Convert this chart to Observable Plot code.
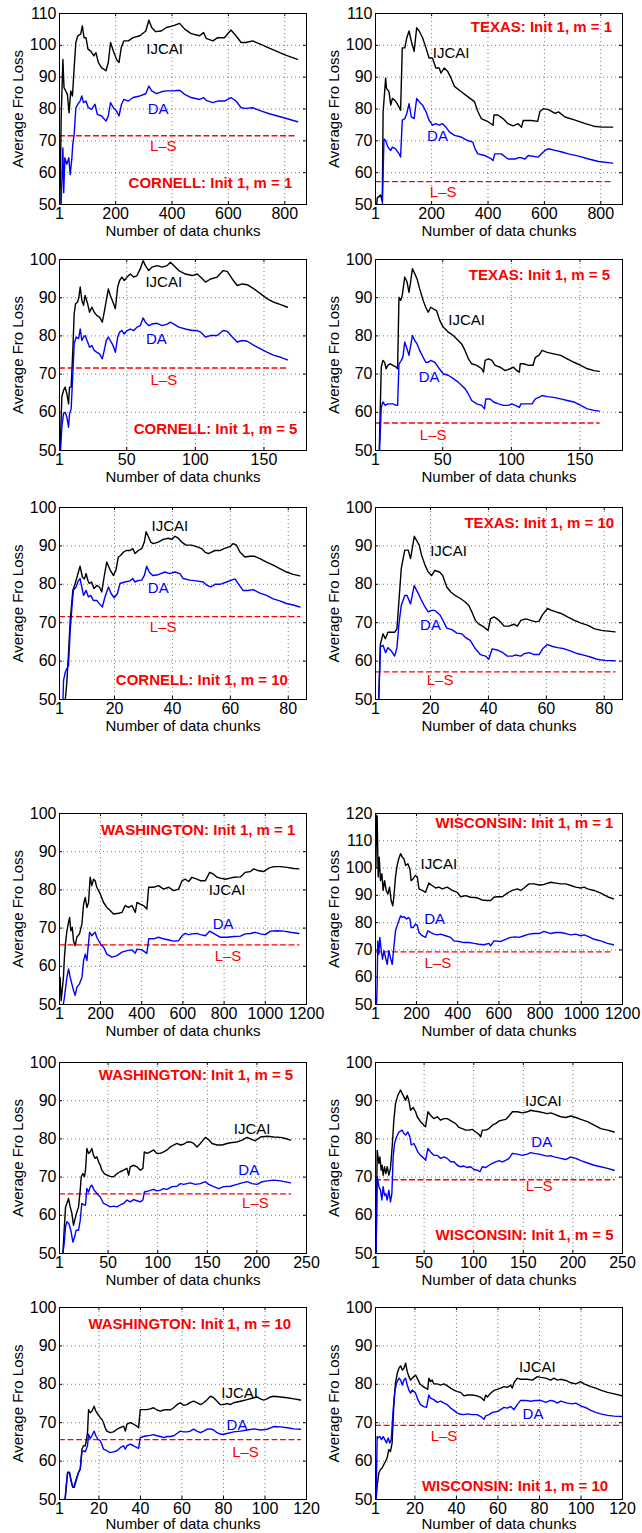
<!DOCTYPE html>
<html><head><meta charset="utf-8">
<script src="https://cdn.jsdelivr.net/npm/d3@7"></script>
<script src="https://cdn.jsdelivr.net/npm/@observablehq/plot@0.6"></script>
<style>
html,body{margin:0;padding:0;background:#fff;}
#chart{position:relative;width:642px;height:1533px;overflow:hidden;background:#fff;}
#chart svg{position:absolute;overflow:visible;}
</style></head><body><div id="chart"></div>
<script>
// ---------------- DATA ----------------
const ticksM1CT = [1,200,400,600,800];
const ticksM5CT = [1,50,100,150];
const ticksM10CT = [1,20,40,60,80];
const ticksM1WW = [1,200,400,600,800,1000,1200];
const ticksM5WW = [1,50,100,150,200,250];
const ticksM10WW = [1,20,40,60,80,100,120];
const yTicks100 = [50,60,70,80,90,100];
const yTicks110 = [50,60,70,80,90,100,110];
const yTicks120 = [50,60,70,80,90,100,110,120];

const lsCornell = 71.6, lsTexas = 57.2, lsWashington = 65.6, lsWisconsin = 69.3;

const cornell1Ijcai = [[1,40],[7,77.3],[13,95.6],[17,86.7],[23,85.7],[29,84.6],[35,78.8],[41,85.7],[47,84.1],[53,93],[59,100.9],[66,103],[76,103.5],[82,106.1],[88,102.4],[95,102.4],[102,98.8],[112,98.2],[123,96.7],[130,97.7],[139,94.6],[150,93],[166,92],[174,94.6],[182,100.9],[192,98.2],[203,95.6],[212,94.6],[220,99.3],[229,101.4],[245,101.4],[262,102.4],[286,103],[307,104.5],[318,107.9],[328,105.6],[342,104.3],[362,104.5],[380,105.6],[403,106.1],[427,106.9],[445,105.1],[468,103.7],[498,103],[512,104],[521,102.2],[545,101.4],[562,102.4],[586,102.4],[609,104.8],[627,103],[645,100.9],[662,100.9],[686,101.4],[715,100.3],[745,99.1],[774,98],[803,96.9],[845,95.6]];
const cornell1Da = [[5,45],[13,67.8],[16,53.7],[20,64.7],[27,62.6],[34,64.7],[39,59.4],[45,64.7],[48,68.9],[53,72],[59,80.4],[66,81.5],[74,82.5],[80,84.1],[86,82],[95,82.5],[103,80.4],[115,79.9],[127,81.5],[135,78.3],[150,77.8],[166,76.2],[174,77.8],[182,82],[192,80.4],[203,79.4],[212,77.8],[221,81.5],[229,83],[245,82.5],[262,83.6],[286,84.1],[307,84.8],[318,87.2],[328,85.7],[345,84.8],[362,85.4],[380,85.7],[403,85.7],[427,85.9],[445,84.6],[468,83.6],[498,83],[512,83.6],[521,82.7],[545,82],[562,82.5],[586,82.5],[609,83.6],[627,82.5],[645,80.4],[662,80.2],[686,80.4],[715,79.4],[745,78.5],[774,77.8],[803,77.1],[845,76]];

const texas1Ijcai = [[1,45],[7,52],[19,53],[25,51],[28,79],[37,89.7],[40,86.5],[49,85.4],[55,81.2],[61,83.3],[69,82.8],[78,81.7],[90,79.6],[96,99.2],[105,99.2],[112,102.4],[120,104.5],[128,101.3],[138,98.1],[147,105.5],[156,104.5],[168,102.4],[180,99.2],[191,96],[203,96],[215,92.9],[227,92.9],[233,91.3],[245,92.9],[257,91.8],[269,89.7],[281,87.1],[305,85.4],[328,83.9],[352,82.3],[364,79.2],[376,77],[400,76],[418,74.9],[421,78.1],[435,78.1],[453,77],[471,75.4],[489,74.7],[507,75.4],[519,74.3],[525,76.4],[537,76.4],[554,76.4],[576,76.1],[584,79.2],[596,80.1],[614,79.8],[638,78.6],[650,79.1],[673,77.5],[709,76.5],[745,75.4],[775,74.6],[804,74.3],[842,74.3]];
const texas1Da = [[24,45],[31,70.6],[37,70.1],[43,68.5],[49,67.5],[55,67],[61,68],[72,67.5],[84,66],[90,64.9],[96,76.5],[105,77],[112,78.6],[120,81.7],[128,77.5],[138,77],[147,83.3],[156,82.3],[168,81.2],[180,79.2],[191,76.5],[203,74.9],[215,75.4],[227,74.9],[239,75.4],[251,74.3],[263,72.8],[281,71.7],[305,71.2],[328,70.1],[346,69.6],[354,67.5],[364,65.9],[388,65.4],[412,64.3],[418,63.8],[424,65.9],[447,65.9],[471,64.3],[495,64.3],[513,64.8],[531,64.3],[543,65.4],[578,64.9],[602,67],[614,67.5],[638,67],[662,66.5],[685,65.9],[721,65.2],[757,64.3],[792,63.5],[842,63]];

const cornell5Ijcai = [[1,45],[2.7,64],[3.9,65.7],[5.1,66.6],[6.4,64.8],[7.6,62.2],[8.3,66.6],[9.5,66.6],[10.7,76.2],[11.7,85.8],[12.7,88.4],[14.1,88.8],[15.1,90.1],[16.1,92.8],[17.3,89.3],[18.5,88],[19.7,90.6],[21.5,88.4],[22.9,86.2],[24.6,87.5],[26.3,86.2],[28.3,85.3],[30.2,84.9],[32.2,83.6],[33.6,86.2],[35.1,89.3],[36.6,92.3],[38,90.6],[40,88.8],[41.7,87.1],[43.4,92.8],[44.8,94.5],[46.5,95.4],[48.2,94.5],[50.2,95.4],[52.6,96.2],[55.1,95.4],[57.5,95.8],[59.9,97.6],[61.9,99.7],[63.6,98.4],[66,97.1],[68.4,98],[72.1,98.4],[75.8,98],[79.4,98.4],[81.8,99.3],[84.3,98.4],[87.9,97.1],[92.8,96.2],[97.7,95.8],[101.3,96.2],[103.8,95.4],[107.4,94.1],[111.1,94.9],[115.9,95.4],[120.3,97.1],[123.2,96.9],[126.9,94.9],[130.5,93.2],[134.2,93.6],[137.8,93.4],[142.7,92.3],[147.6,91],[152.5,89.7],[157.3,88.8],[162.2,88.2],[167.1,87.5]];
const cornell5Da = [[1,45],[2.7,56.1],[3.9,59.6],[5.1,60],[6.4,58.7],[7.6,56.1],[8.3,59.6],[9.5,60.9],[10.7,70.1],[11.7,77.9],[13.2,79.7],[14.9,79.3],[16.1,81.8],[17.3,78.8],[18.5,79.7],[19.7,80.1],[21.5,78.4],[22.9,77],[24.6,77.5],[26.3,76.2],[28.3,75.7],[30.2,75.3],[32.2,74],[33.6,76.2],[35.1,78.8],[36.6,79.7],[38,78.8],[40,77.5],[41.7,75.7],[43.4,79.7],[44.8,81],[46.5,81.4],[48.2,80.5],[50.2,81.4],[52.6,81.8],[55.1,81.4],[57.5,82.3],[59.9,82.7],[61.9,84.7],[63.6,83.6],[66,82.7],[68.4,83.1],[72.1,83.3],[75.8,82.7],[79.4,83.1],[81.8,83.6],[84.3,83.1],[87.9,82.3],[92.8,81.8],[97.7,81.4],[101.3,81.4],[103.8,81],[107.4,79.7],[111.1,80.1],[115.9,80.1],[120.3,81.4],[123.2,81.2],[126.9,79.7],[130.5,78.4],[134.2,78.8],[137.8,78.6],[142.7,77.5],[147.6,76.6],[152.5,75.7],[157.3,74.9],[162.2,74.4],[167.1,73.7]];

const texas5Ijcai = [[3.4,45],[5.2,71.8],[6.4,73.6],[7.6,73.1],[8.8,71.4],[10,72.3],[11.7,72.7],[13.7,72.3],[16.1,71.8],[17.1,71.4],[18.1,90.1],[19.3,89.3],[20.5,90.6],[22.3,95.4],[24,94.1],[25.4,91.4],[26.4,93.6],[27.9,97.6],[29.6,96.3],[31.3,94.9],[33.2,92.3],[35.7,89.3],[37.6,87.5],[39.4,86.2],[41.3,87.5],[43,87.1],[45.5,86.6],[47.9,84],[50.3,82.3],[54,81],[57.7,80.1],[61.3,78.8],[63.8,77.9],[66.2,76.2],[68.7,74],[71.1,72.7],[74.8,72.3],[78.4,71.4],[79.7,70.5],[80.9,73.6],[83.3,74],[85.8,73.6],[88.2,72.3],[91.9,71.8],[95.5,70.9],[99.2,71.4],[101.6,71.8],[104.1,70.9],[105.8,70.5],[106.5,72.7],[109,72.7],[112.6,72.3],[115.8,72.3],[117.5,74.4],[120,74.9],[122.4,76.2],[126.1,75.7],[130.9,75.3],[135.9,74.9],[140.7,74],[145.6,73.1],[150.5,72.3],[155.4,71.4],[160.3,70.9],[164,70.7]];
const texas5Da = [[3.4,45],[5.2,61.3],[6.4,62.7],[8.1,61.8],[10,62.2],[11.7,62.2],[13.7,62.2],[16.1,61.8],[17.1,61.8],[18.1,72.7],[19.8,73.6],[21,74.5],[22.3,78.4],[24,76.6],[25.4,74.9],[26.4,77],[27.9,80.1],[29.6,78.8],[31.3,77.9],[33.2,76.2],[35.7,74.4],[37.6,73.1],[39.4,73.1],[41.3,73.6],[44.2,73.1],[46.7,71.8],[50.3,70.1],[54,69.7],[57.7,68.8],[61.3,67.9],[63.8,67],[66.2,66.2],[68.7,64.8],[71.1,63.1],[74.8,62.2],[78.4,61.8],[80.4,60.9],[81.4,63.5],[84.6,63.5],[87,62.7],[90.7,62.2],[94.3,61.8],[98,61.8],[100.4,62.2],[102.9,61.8],[105.8,61.3],[107,62.2],[110.2,62.2],[115.1,62.2],[117.5,63.5],[120,63.9],[122.4,64.4],[126.1,64.1],[130.9,63.9],[135.9,63.5],[140.7,63.1],[145.6,62.7],[150.5,61.8],[155.4,60.9],[160.3,60.5],[164,60.3]];

const cornell10Ijcai = [[2.4,45],[3,50],[3.5,54.1],[4.1,61.9],[4.7,70.6],[5.6,78.4],[6.4,80.2],[7.2,82.3],[8.1,84.7],[8.9,81.9],[9.6,81.4],[10.2,82.8],[10.8,81],[11.3,80.2],[12.1,80.6],[12.9,78.9],[13.9,79.7],[14.8,79.3],[15.6,78],[16.4,81.9],[17.3,85.8],[18.5,83.7],[19.6,82.3],[20.5,83.7],[21.3,87.1],[22.1,87.5],[23.1,88.4],[24,88.8],[25.4,88.8],[26.3,89.3],[27.1,88],[28.2,88.8],[29.4,89.3],[30.3,91],[30.9,93.7],[31.7,92.4],[32.5,91],[33.4,90.6],[35.1,91],[36.8,91.7],[38.6,92],[39.7,91.7],[40.9,92.5],[42,92],[43.2,91],[44.7,90.2],[46.6,90.2],[48.3,89.8],[50.1,89.3],[51.2,88.4],[52.4,88],[53.5,88.4],[54.7,88.8],[56.4,88.8],[57.8,89.3],[59.8,89.8],[61,90.6],[62.1,90.2],[63.3,88.4],[65,87.1],[66.7,87.3],[68.4,87.3],[70.2,86.7],[72.5,85.8],[74.8,85],[77.1,84.1],[79.4,83.2],[81.7,82.6],[84,82.2]];
const cornell10Da = [[2,45],[2.4,55],[3,57.1],[3.5,58],[4.1,58.9],[4.7,68],[5.3,74.1],[5.8,78.4],[6.7,79.3],[7.5,80.9],[8.1,81.5],[8.7,79.3],[9.3,77.1],[10.2,78.4],[11,76.7],[11.8,77.1],[12.7,75.8],[13.9,75.8],[14.8,74.9],[15.8,74.1],[16.7,76.7],[17.9,79.3],[18.8,77.6],[19.9,76.5],[21,77.6],[21.9,80.2],[23.6,80.6],[25.4,80.9],[26.3,81.5],[27.1,80.6],[28.2,81],[29.4,81.1],[30.3,82.3],[31.1,84.7],[32,83.2],[33.2,82.3],[35.1,82.5],[37.4,83.2],[39.1,82.8],[40.9,83.2],[42.6,82.8],[43.7,81.5],[46,81.1],[48.3,80.9],[50.6,80.6],[51.8,79.8],[53.2,79.3],[54.7,80],[56.4,80],[58.7,80.6],[60.4,81.1],[61.6,81.4],[62.7,80.2],[64.4,78.4],[66.1,78.4],[67.9,78.6],[70.2,77.7],[72.5,77.1],[74.8,76.2],[77.1,75.7],[79.4,75],[81.7,74.6],[84,74.1]];

const texas10Ijcai = [[1.9,45],[2.7,64.5],[3.6,67.1],[4.4,65.8],[5.3,67.5],[6.5,67.5],[7.6,67.5],[8.4,68.4],[9.1,75.7],[9.9,84.1],[11.1,88.9],[12.3,88.9],[13.1,86.7],[14.4,92.5],[15.2,91.4],[16.1,90.2],[16.9,87.6],[18.1,85],[19.2,83.2],[20.4,82.3],[21.5,83.6],[23.1,83.2],[24.2,82.3],[25.6,79.3],[27,78],[28.5,77.1],[30.3,76.3],[32,75.4],[33.2,74.5],[34.3,72.8],[35.5,70.6],[36.6,69.7],[38.4,68.9],[39.9,68],[40.7,71],[41.9,71.5],[43,71],[44.2,70.2],[45.4,69.1],[47.1,69.1],[48.8,69.6],[50,69.1],[51.2,70.6],[52.9,71],[54.6,70.6],[56.4,70.2],[57.5,70.4],[58.7,72.1],[60.4,73.7],[61.6,73.3],[63.3,72.8],[65.1,72.4],[67.3,71.5],[69.7,70.6],[72,69.9],[74.4,69.3],[76.7,68.4],[79,68],[81.3,67.8],[83.7,67.6]];
const texas10Da = [[1.9,45],[2.7,63.7],[3.6,64.1],[4.5,62.2],[5.3,63.5],[6.5,62.6],[7.6,61.3],[8.4,63.5],[9.1,69.7],[9.9,74.5],[11.1,77.1],[11.9,77.1],[13.1,74.9],[14.4,79.7],[15.2,78.4],[16.1,77.1],[16.9,75.8],[18.1,74.1],[19.2,72.8],[20.4,73.2],[21.5,73.2],[23.3,72],[24.5,70.3],[25.6,68.6],[27.4,68.2],[29.1,67.3],[30.8,67.1],[32,66.2],[33.7,65.4],[35.5,63.2],[37.2,61.7],[39,61.3],[40.1,60.5],[41.3,63.2],[43,62.9],[44.8,62.3],[46.5,61.3],[48.3,61.3],[49.4,61.6],[51.2,61.3],[52.3,61.9],[54.1,62.2],[55.8,61.7],[57.5,61.7],[58.7,63.2],[60.4,64.3],[62.2,63.8],[63.9,63.5],[66.2,63.2],[68.5,62.6],[70.9,61.9],[73.2,61.5],[75.5,61],[77.9,60.4],[80.2,60.2],[83.7,60.1]];

const washington1Ijcai = [[4,57.1],[9,51],[14,53.7],[20,57.1],[25,62.4],[30,65.9],[37,69.3],[45,71.5],[50,72.8],[56,69.3],[63,70.2],[69,66.7],[77,65.4],[85,67.6],[98,68.5],[110,71.1],[118,76.3],[126,78],[134,75.4],[142,76.7],[150,83.3],[158,81.1],[166,82.8],[174,82.4],[182,80.7],[199,78.9],[215,76.7],[231,75.4],[247,74.6],[263,73.7],[288,73.9],[304,74.1],[320,75.9],[336,75.4],[353,75.9],[369,74.1],[377,76.7],[393,76.3],[409,75.9],[425,75],[434,80.7],[458,80.7],[482,81.1],[506,80.2],[531,80.7],[555,79.8],[579,80.2],[596,82.4],[612,82.8],[628,82.2],[644,83.3],[668,82.8],[685,82.4],[709,82.4],[730,84.6],[749,84.1],[766,83.3],[782,83.1],[806,82.8],[830,83.1],[847,83.3],[879,83.4],[903,84.6],[928,84.8],[944,85.5],[968,85],[992,84.8],[1017,85.7],[1041,86.1],[1073,86.1],[1106,85.9],[1138,85.6],[1163,85.5]];
const washington1Da = [[20,50.2],[25,51.9],[37,57.1],[45,59.3],[53,57.1],[61,55.4],[69,53.7],[77,52.4],[85,54.5],[98,55.4],[110,57.1],[118,61.5],[126,63.2],[134,61.5],[139,64.5],[147,68.9],[158,68],[166,68.5],[174,68.9],[182,67.6],[199,65.9],[215,65],[231,63.2],[255,62.4],[280,62.8],[304,63.7],[328,64.1],[352,64.3],[369,63.4],[377,64.5],[401,64.3],[425,63.4],[434,67.2],[458,67.2],[482,67.6],[506,67.2],[531,66.9],[555,66.6],[579,66.7],[596,68],[612,68.6],[628,68.3],[644,68.5],[668,68.6],[685,68.3],[709,68],[730,69.2],[749,68.6],[782,67.6],[815,67.6],[847,67.8],[879,67.9],[903,68.5],[928,68.6],[952,68.9],[976,68.5],[1001,68.3],[1025,69.2],[1057,69.3],[1090,69.2],[1122,68.9],[1163,68.6]];

const wisconsin1Ijcai = [[3,100],[6,119.4],[9,118.8],[14,96.7],[19,104],[25,95.4],[32,97.9],[38,91.8],[45,95.4],[53,91.8],[61,90.5],[69,93],[77,88.1],[85,86.2],[90,89.3],[98,96.7],[106,101],[114,103.4],[123,105.3],[131,104],[139,103.4],[147,101],[158,101.6],[168,99.7],[174,95.4],[184,96.1],[195,97.3],[204,96.7],[212,92.4],[228,91.8],[244,91.1],[260,94.5],[276,93.6],[293,92.7],[309,93],[325,92.4],[349,93],[374,91.8],[398,91.1],[414,89.5],[438,89.9],[463,89.3],[495,89.1],[519,88.3],[544,88.1],[560,88.1],[576,89.3],[592,89.5],[617,89.5],[641,90.8],[665,91.8],[690,92.4],[706,91.8],[722,92.7],[746,94.2],[771,94.2],[795,93.8],[819,94],[852,94.8],[876,94.5],[900,94.2],[924,94.2],[949,93.6],[973,93],[997,92.7],[1014,93],[1030,92.4],[1062,91.8],[1095,90.8],[1127,89.5],[1156,88.7]];
const wisconsin1Da = [[6,50],[9,57.4],[12,73.3],[17,68.4],[22,74.6],[29,69.7],[35,66.6],[42,69.7],[50,67.2],[58,64.7],[66,69.7],[74,67],[82,64.7],[90,70.9],[98,77],[106,78.9],[114,80.7],[123,82.5],[131,81.9],[139,82.2],[152,81.3],[160,81.9],[168,81.3],[174,78.2],[184,78.2],[195,79.5],[204,78.9],[212,76.4],[228,75.2],[244,74.6],[255,77],[268,76.4],[285,75.8],[301,75.5],[317,75.8],[341,75.2],[366,74.6],[382,73.3],[406,73.1],[430,72.7],[455,72.7],[479,72.4],[503,72.1],[528,71.9],[552,72.4],[560,71.5],[576,73.3],[609,73.1],[633,73.9],[657,74.6],[681,74.8],[698,74.6],[722,75.2],[746,75.8],[771,76],[795,76],[819,76.8],[852,76],[876,76.4],[900,76.4],[924,76],[949,75.5],[973,75.8],[997,75.2],[1014,75.5],[1038,74.8],[1062,73.9],[1095,73.3],[1127,72.4],[1156,71.9]];

const washington5Ijcai = [[4.4,50],[5.7,56.1],[7.1,62.2],[8.4,63.1],[10.1,64.4],[11.8,62.2],[13.5,60.5],[15.1,57.4],[16.8,59.2],[18.5,60.9],[20.2,62.2],[21.9,66.6],[22.9,70.1],[24.6,70.9],[26.2,70.1],[27.2,71.8],[28.6,77.5],[30.3,76.2],[32,76.6],[33.6,77.5],[35.3,75.7],[37,74.9],[38.7,75.3],[40.4,74],[42.1,73.1],[43.7,71.8],[46.1,70.9],[48.8,70.5],[52.1,70.2],[55.5,70.1],[58.9,70.9],[62.2,71.4],[65.6,71.8],[69,72.3],[70.7,70.5],[72.3,72.7],[75.7,73.1],[79.1,72.7],[82.4,71.8],[85.1,72.3],[86.5,76.6],[89.2,76.2],[92.5,76.6],[95.9,77.1],[99.3,76.2],[102.6,76.2],[106,76.6],[109.4,77.1],[112.7,77.9],[116.1,78.4],[119.4,78.8],[122.8,78.4],[126.2,78.6],[129.5,79.2],[132.9,79.2],[136.3,78.8],[139.6,77.9],[143,78.8],[148.1,80.4],[151.4,79.8],[154.8,78.8],[159.8,78.4],[164.9,78.4],[169.9,78.8],[173.3,79],[180,79.2],[185.1,79.7],[190.1,80.4],[195.2,79.8],[198.5,79.5],[203.6,80.5],[210.3,80.7],[217,80.5],[223.8,80.4],[228.8,80.1],[233.9,79.7]];
const washington5Da = [[4.4,50],[5.7,52.6],[7.1,57],[8.4,58.3],[10.4,57.9],[12.4,56.1],[14.5,53],[15.8,53.9],[17.8,56.1],[20.2,56.1],[21.9,58.7],[23.5,63.1],[25.9,62.7],[27.2,62.7],[28.6,67],[30.3,66.1],[32,67.5],[33.6,67.9],[36,66.6],[38.7,65.7],[42.1,64.8],[45.4,63.1],[48.8,62.7],[52.1,62.2],[55.5,62.4],[58.9,62.2],[62.2,62.7],[65.6,63.1],[69,64],[72.3,63.5],[75.7,64.1],[79.1,63.8],[82.4,63.5],[85.1,64],[86.5,66.1],[90.8,66.4],[95.9,66.8],[99.3,66.4],[102.6,66.6],[106,67],[109.4,66.8],[114.4,67.5],[119.4,67.6],[122.8,68.3],[126.2,68.1],[129.5,68.3],[132.9,68.5],[138,68.1],[143,68.3],[148.1,68.8],[151.4,68.1],[156.5,67.5],[161.5,67],[166.6,67.5],[173.3,67.6],[180,68.1],[185.1,68.5],[190.1,68.8],[195.2,68.3],[200.2,68.1],[205.3,68.8],[210.3,69],[217,69.2],[223.8,69],[233.9,68.5]];

const wisconsin5Ijcai = [[1.5,48],[2.7,77],[4.4,73.6],[5.4,75.3],[6.7,71.8],[7.7,73.1],[8.7,70.5],[10.1,72.7],[11.4,70.9],[12.8,72.7],[14.5,70.5],[16.1,72.3],[17.8,77.9],[19.5,84.9],[21.2,89.3],[23.5,91.4],[26.2,92.8],[27.9,91.9],[29.6,91],[31.3,90.1],[33,91.4],[34.6,90.1],[36.3,87.5],[39,88.2],[41.4,87.1],[43.1,85.8],[46.4,84.5],[49.8,83.6],[51.5,83.2],[53.8,87.1],[56.5,86.2],[59.9,85.3],[63.3,85.8],[66.6,84.9],[70,85.3],[73.3,85.3],[78.4,84.5],[81.8,84],[85.1,83],[88.5,82.7],[91.9,82.3],[95.2,82.3],[98.6,82.5],[101.9,81.8],[105.3,81.2],[107,80.5],[108.7,82.3],[112,82.3],[115.4,82.7],[118.8,83.6],[122.1,84],[125.5,84.7],[128.9,84.9],[132.2,85.1],[135.6,86],[139,87.1],[144,87.1],[149.1,86.8],[154.1,87.1],[157.5,87.5],[160.8,87.3],[165.9,87.1],[170.9,86.8],[174.3,86.6],[177.7,86.8],[181,86.5],[187.8,85.8],[192.8,85.6],[197.9,86],[202.9,85.6],[208,85.1],[214.7,84.5],[221.4,83.6],[228.1,82.7],[234.9,82.3],[241.6,81.8]];
const wisconsin5Da = [[1.5,48],[2.7,70.1],[4.4,67.5],[6,66.6],[7.4,64],[8.7,67.5],[10.1,65.2],[11.4,65.7],[12.8,64],[14.5,66.6],[16.1,63.5],[17.5,65.7],[18.8,75.3],[20.2,78.8],[22.2,80.5],[24.6,81.8],[27.9,82.3],[29.6,81.4],[31.3,81],[33.6,81.8],[35.7,80.5],[37,78.4],[39.7,78.8],[41.4,77.9],[43.7,76.6],[46.4,75.7],[49.8,74.9],[51.5,74.4],[53.8,77.5],[56.5,76.6],[59.9,75.7],[63.3,75.7],[66.6,74.9],[70,75.3],[73.3,74.9],[76.7,74],[80.1,74],[83.4,73.1],[86.8,72.7],[90.2,72.9],[93.5,72.5],[96.9,72.7],[100.3,72],[103.6,71.8],[106.3,71.4],[108.7,72.7],[112,72.5],[115.4,73.1],[118.8,73.6],[122.1,74],[125.5,74.3],[128.9,74],[132.2,74.4],[135.6,74.9],[139,76.2],[144,76],[149.1,75.7],[154.1,76],[157.5,76.4],[160.8,76.2],[165.9,76],[170.9,75.7],[174.3,75.5],[177.7,75.6],[181,75.3],[187.8,74.9],[192.8,74.6],[197.9,75.3],[202.9,74.9],[208,74.3],[214.7,73.7],[221.4,73.1],[228.1,72.7],[234.9,72.3],[241.6,71.8]];

const washington10Ijcai = [[3.7,50],[4.2,52.8],[4.9,57.1],[5.8,57.1],[6.5,54.9],[7.4,53.2],[8.1,53.2],[9,54.9],[10.2,57.1],[11,57.9],[11.8,63.1],[12.6,64],[13.4,64],[13.9,65.3],[14.5,67.4],[15,73.4],[15.8,72.6],[16.6,73],[17.7,74.3],[18.5,73],[19.5,72.2],[20.6,71.3],[21.4,70.9],[22.2,70],[23,68.7],[23.8,67.8],[25.4,67.4],[27,67.6],[28.7,68.3],[30.3,68.7],[31.9,69.1],[32.7,67.8],[33.5,69.6],[35.1,70],[36.7,69.6],[38.3,69.1],[39.1,68.7],[39.9,73.4],[41.5,73.4],[43.1,73.4],[44.7,73.6],[46.3,73.9],[48,73.3],[49.6,73],[51.2,73.3],[52.8,73.4],[54.4,73.3],[56,73.9],[57.6,74.7],[59.2,75.2],[60.8,74.5],[62.4,74.7],[64,75.3],[65.6,75.6],[67.2,75.2],[68.9,74.7],[70.5,75.2],[72.1,76],[73.7,76.9],[75.3,76.5],[76.9,75.6],[78.5,74.7],[80.1,74.7],[81.7,75],[83.3,74.7],[84.9,75.2],[88.2,75.6],[91.4,76],[94.6,76.5],[96.2,76.7],[97.8,76.2],[99.4,75.9],[101,76.2],[102.6,76.7],[104.2,76.9],[107.5,76.7],[110.7,76.5],[113.9,76.2],[117.1,75.9]];
const washington10Da = [[3.7,50],[4.2,53.6],[4.9,56.9],[5.8,56.9],[6.5,55.3],[7.4,53.2],[8.1,53.6],[9,55.3],[10.2,57.1],[11,57.9],[11.8,62.4],[12.6,62.7],[13.4,62.4],[14.5,64],[15,67],[15.8,65.9],[16.6,66.6],[17.7,67.8],[18.5,66.6],[19.5,65.7],[20.6,65.3],[21.4,64.4],[22.2,63.1],[23.8,62.7],[25.4,62.2],[27,62.4],[28.7,62.7],[30.3,63.5],[31.9,64],[32.7,63.1],[33.5,64],[35.1,64.4],[36.7,64],[38.3,63.5],[39.1,63.3],[39.9,66.1],[41.5,66.4],[43.1,66.6],[44.7,66.7],[46.3,66.9],[48,66.6],[49.6,66.4],[51.2,66.1],[52.8,66.4],[54.4,66.4],[56,66.6],[57.6,67.2],[59.2,67.8],[60.8,67.6],[62.4,67.6],[64,67.8],[65.6,68.3],[67.2,67.8],[68.9,67.4],[70.5,67.8],[72.1,68.3],[73.7,68.4],[75.3,68.1],[76.9,67.4],[78.5,67],[80.1,67],[81.7,67.2],[84.9,67.6],[88.2,67.8],[91.4,68.1],[94.6,68.4],[97.8,68.1],[101,68.3],[104.2,69],[107.5,68.9],[110.7,68.7],[113.9,68.4],[117.1,68.3]];

const wisconsin10Ijcai = [[1.3,50],[1.8,53.5],[2.6,56.9],[3.4,57.8],[4.2,58.2],[5,59.1],[5.8,59.9],[6.6,60.8],[7.4,63],[8.2,62.5],[9,64.7],[9.8,74.2],[10.6,80.3],[11.5,82.9],[12.3,84.2],[13.1,84.8],[13.9,83.7],[14.7,84.2],[15.5,85.5],[16.3,83.3],[17.1,82],[17.9,81.1],[18.7,81.6],[19.5,82],[20.3,82.4],[21.1,81.6],[22.4,80.1],[23.5,79.6],[25.1,79],[26.2,78.7],[26.7,81.6],[27.5,80.7],[28.3,81.1],[29.1,80.1],[30.7,80.1],[32.4,79.8],[34,80.1],[35.6,79.6],[37.2,79],[38.8,78.5],[40.4,78.1],[42,77.9],[43.6,77],[45.2,77.2],[47.6,77.2],[50,77],[51.7,76.6],[53.3,75.8],[54.1,77.2],[54.9,76.7],[56.5,77.7],[58.1,78.4],[59.7,78.7],[61.3,79],[62.9,79.4],[64.5,79.2],[66.1,79.8],[66.9,79],[67.7,80.4],[69.3,81.6],[70.9,81.3],[74.2,81.3],[76.6,81.1],[79,82],[80.6,81.8],[83,81.6],[85.4,81.1],[87,81.6],[88.6,81.1],[90.2,81.3],[92.7,81],[95.1,80.4],[97.5,80.1],[99.9,80.7],[101.5,80.1],[104.7,79.4],[107.1,79],[109.5,78.5],[112.8,77.9],[116,77.5],[120,77]];
const wisconsin10Da = [[1.3,50],[1.8,66.4],[2.1,66],[3.1,66.4],[3.9,65.6],[4.7,66.4],[5.5,65.6],[6.3,64.7],[7.1,66],[7.9,64.7],[8.6,65.6],[9.4,72.5],[10.2,77.7],[11.1,80.3],[12.3,81.6],[13.1,81.1],[13.9,79.8],[14.7,81.1],[15.5,81.6],[16.3,79.8],[17.1,78.5],[17.9,77.7],[18.7,78.5],[19.5,78.1],[20.3,77.7],[21.4,76],[22.7,74.7],[24.3,74.2],[25.6,74],[26.7,77.2],[27.5,76.4],[29.1,76],[30.7,75.3],[32.4,75.6],[34,75.1],[35.6,74.7],[37.2,73.8],[38.8,73.2],[40.4,72.5],[42,72.2],[43.6,72.1],[45.2,72.3],[47.6,72.1],[50,72.1],[51.7,71.6],[53.3,70.9],[54.1,71.8],[55.7,72.1],[57.3,72.7],[59.7,72.9],[61.3,73.4],[62.9,74],[64.5,73.8],[66.1,74.2],[67.7,73.4],[69.3,74.7],[70.9,75.8],[73.4,75.8],[75.8,75.6],[78.2,75.8],[80.6,75.8],[83,75.3],[85.4,75.8],[87,75.6],[88.6,75.1],[90.2,75.6],[93.5,75.1],[95.9,74.9],[97.5,75.1],[99.9,74.4],[102.3,73.9],[104.7,73.2],[107.1,72.7],[109.5,72.3],[112.8,71.9],[116,71.7],[120,71.6]];

// ---------------- LAYOUT ----------------
const rowTop = [13, 259, 507, 813, 1062, 1307];
const rowH = [191, 191, 192, 191, 191, 192];
const rowLabelDy = [26.5, 26.5, 26.5, 26.5, 26.5, 24.5];
const FONT = "'Liberation Sans', Arial, Helvetica, sans-serif";

const panels = [
  {row:0,col:0,xd:[1,877],yd:[50,110],xt:ticksM1CT,yt:yTicks110,ij:cornell1Ijcai,da:cornell1Da,ls:lsCornell,title:"CORNELL: Init 1, m = 1",tp:[827,56.8],li:[374,98.9],ld:[351,79.8],ll:[369,68.4]},
  {row:0,col:1,xd:[1,877],yd:[50,110],xt:ticksM1CT,yt:yTicks110,ij:texas1Ijcai,da:texas1Da,ls:lsTexas,title:"TEXAS: Init 1, m = 1",tp:[840,105.8],li:[269,97.4],ld:[221,71.5],ll:[241,53.9]},
  {row:1,col:0,xd:[1,181],yd:[50,100],xt:ticksM5CT,yt:yTicks100,ij:cornell5Ijcai,da:cornell5Da,ls:lsCornell,title:"CORNELL: Init 1, m = 5",tp:[174.4,55.7],li:[77,94.1],ld:[71.6,79.1],ll:[77,68.3]},
  {row:1,col:1,xd:[1,181],yd:[50,100],xt:ticksM5CT,yt:yTicks100,ij:texas5Ijcai,da:texas5Da,ls:lsTexas,title:"TEXAS: Init 1, m = 5",tp:[172,96],li:[67.4,84],ld:[40.1,69.2],ll:[43,53.9]},
  {row:2,col:0,xd:[1,86.3],yd:[50,100],xt:ticksM10CT,yt:yTicks100,ij:cornell10Ijcai,da:cornell10Da,ls:lsCornell,title:"CORNELL: Init 1, m = 10",tp:[79.9,55],li:[39.1,95.2],ld:[35.1,79.1],ll:[36.8,68.9]},
  {row:2,col:1,xd:[1,86.3],yd:[50,100],xt:ticksM10CT,yt:yTicks100,ij:texas10Ijcai,da:texas10Da,ls:lsTexas,title:"TEXAS: Init 1, m = 10",tp:[83.4,95.8],li:[26.2,88.7],ld:[20,69.3],ll:[23.3,55.1]},
  {row:3,col:0,xd:[1,1200],yd:[50,100],xt:ticksM1WW,yt:yTicks100,ij:washington1Ijcai,da:washington1Da,ls:lsWashington,title:"WASHINGTON: Init 1, m = 1",tp:[1146,95.6],li:[814,79.8],ld:[795,70.9],ll:[819,62.6]},
  {row:3,col:1,xd:[1,1200],yd:[50,120],xt:ticksM1WW,yt:yTicks120,ij:wisconsin1Ijcai,da:wisconsin1Da,ls:lsWisconsin,title:"WISCONSIN: Init 1, m = 1",tp:[1156,116.3],li:[309,101.6],ld:[288,81.3],ll:[304,65.1]},
  {row:4,col:0,xd:[1,250],yd:[50,100],xt:ticksM5WW,yt:yTicks100,ij:washington5Ijcai,da:washington5Da,ls:lsWashington,title:"WASHINGTON: Init 1, m = 5",tp:[236.6,96.6],li:[195.2,82.5],ld:[191.8,71.8],ll:[198.5,63.3]},
  {row:4,col:1,xd:[1,250],yd:[50,100],xt:ticksM5WW,yt:yTicks100,ij:wisconsin5Ijcai,da:wisconsin5Da,ls:lsWisconsin,title:"WISCONSIN: Init 1, m = 5",tp:[241,54.8],li:[170.3,90],ld:[168.6,79.1],ll:[166,67.6]},
  {row:5,col:0,xd:[1,120],yd:[50,100],xt:ticksM10WW,yt:yTicks100,ij:washington10Ijcai,da:washington10Da,ls:lsWashington,title:"WASHINGTON: Init 1, m = 10",tp:[112.6,95.6],li:[87.8,77.8],ld:[86.5,69.4],ll:[90.6,62.4]},
  {row:5,col:1,xd:[1,120],yd:[50,100],xt:ticksM10WW,yt:yTicks100,ij:wisconsin10Ijcai,da:wisconsin10Da,ls:lsWisconsin,title:"WISCONSIN: Init 1, m = 10",tp:[113.1,53.5],li:[79,84.4],ld:[76.9,72.3],ll:[34,66.6]}
];

const chart = document.getElementById("chart");
const fx = d => d[0], fy = d => d[1];

for (const p of panels) {
  const L = p.col === 0 ? 59 : 54, R = p.col === 0 ? 15 : 20;
  const T = 12, B = 42, H = rowH[p.row], W = 321 - L - R;
  const xEnd = p.da[p.da.length - 1][0];
  const lsLine = [[1, p.ls], [xEnd, p.ls]];
  const lab = (t, pos) => [{x: pos[0], y: pos[1], t}];
  const svg = Plot.plot({
    width: 321, height: T + H + B,
    marginTop: T, marginBottom: B, marginLeft: L, marginRight: R,
    x: {domain: p.xd}, y: {domain: p.yd},
    style: {fontFamily: FONT, fontSize: "15px", background: "transparent", overflow: "visible", color: "black"},
    marks: [
      Plot.gridX({ticks: p.xt, stroke: "#7a7a7a", strokeOpacity: 1, strokeDasharray: "1,3"}),
      Plot.gridY({ticks: p.yt, stroke: "#7a7a7a", strokeOpacity: 1, strokeDasharray: "1,3"}),
      Plot.ruleX(p.xt, {x: d => d, insetTop: H - 3, stroke: "black"}),
      Plot.ruleX(p.xt, {x: d => d, insetBottom: H - 3, stroke: "black"}),
      Plot.ruleY(p.yt, {y: d => d, insetRight: W - 3, stroke: "black"}),
      Plot.ruleY(p.yt, {y: d => d, insetLeft: W - 3, stroke: "black"}),
      Plot.line(lsLine, {x: fx, y: fy, stroke: "#ff0000", strokeWidth: 1.3, strokeDasharray: "5,3.5", clip: true}),
      Plot.line(p.ij, {x: fx, y: fy, stroke: "black", strokeWidth: 1.4, clip: true}),
      Plot.line(p.da, {x: fx, y: fy, stroke: "#0000ff", strokeWidth: 1.4, clip: true}),
      Plot.frame({stroke: "black", strokeWidth: 1}),
      Plot.axisX({ticks: p.xt, tickSize: 0, tickPadding: 3, fontSize: 16, label: null, tickFormat: d => String(d)}),
      Plot.axisY({ticks: p.yt, tickSize: 0, tickPadding: 3, fontSize: 16, label: null, tickFormat: d => String(d)}),
      Plot.text(["Number of data chunks"], {text: d => d, frameAnchor: "bottom", dy: rowLabelDy[p.row], fontSize: 15, fill: "black", textAnchor: "middle", lineAnchor: "middle"}),
      Plot.text(["Average Fro Loss"], {text: d => d, frameAnchor: "left", dx: -41, rotate: -90, fontSize: 15, fill: "black", textAnchor: "middle", lineAnchor: "middle"}),
      Plot.text(lab("IJCAI", p.li), {x: "x", y: "y", text: "t", fill: "black", fontSize: 15}),
      Plot.text(lab("DA", p.ld), {x: "x", y: "y", text: "t", fill: "#0000ff", fontSize: 15}),
      Plot.text(lab("L\u2013S", p.ll), {x: "x", y: "y", text: "t", fill: "#ff0000", fontSize: 15}),
      Plot.text(lab(p.title, p.tp), {x: "x", y: "y", text: "t", fill: "#ff0000", fontSize: 15, fontWeight: "bold", textAnchor: "end"})
    ]
  });
  svg.style.left = (p.col * 321) + "px";
  svg.style.top = (rowTop[p.row] - T) + "px";
  chart.appendChild(svg);
}
</script></body></html>
